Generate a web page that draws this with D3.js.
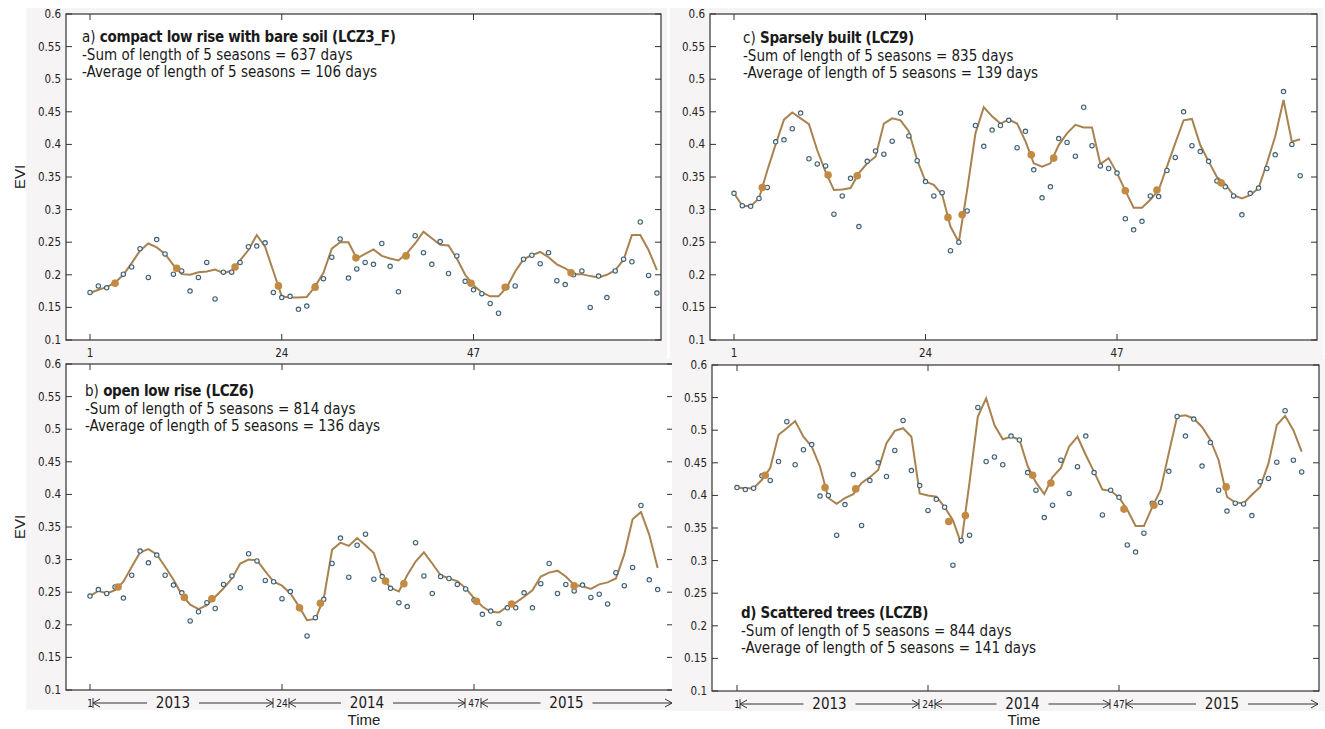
<!DOCTYPE html>
<meta charset="utf-8">
<style>
body { margin: 0; background: #fff; }
svg { display: block; }
.tick-lbl { font-family: "Liberation Sans Narrow", "DejaVu Sans Condensed", sans-serif; font-size: 11.5px; fill: #222; }
.note { font-family: "Liberation Sans Narrow", "DejaVu Sans Condensed", sans-serif; font-size: 15px; fill: #1a1a1a; }
.axis-title { font-family: "Liberation Sans", Arial, sans-serif; font-size: 15px; fill: #222; }
</style>
<body>
<svg width="1325" height="729"></svg>
<script src="https://d3js.org/d3.v7.min.js"></script>
<script>
// EVI time series, 23 composites per year, 2013-2015

var idx = d3.range(1, 70);
var yTicks = [0.1, 0.15, 0.2, 0.25, 0.3, 0.35, 0.4, 0.45, 0.5, 0.55, 0.6];
var xTicks = [1, 24, 47];
var years = ["2013", "2014", "2015"];

// a) LCZ3_F
var lineA = [0.172,0.177,0.181,0.188,0.200,0.218,0.237,0.248,0.242,0.232,
  0.215,0.201,0.200,0.204,0.205,0.208,0.203,0.206,0.222,0.238,
  0.261,0.243,0.205,0.167,0.165,0.165,0.166,0.182,0.203,0.240,
  0.250,0.250,0.225,0.232,0.239,0.229,0.225,0.222,0.233,0.248,
  0.266,0.256,0.246,0.245,0.225,0.200,0.184,0.173,0.167,0.167,
  0.181,0.205,0.224,0.230,0.235,0.227,0.216,0.210,0.201,0.201,
  0.198,0.196,0.200,0.207,0.223,0.261,0.261,0.238,0.207];
var ptsA = [0.173,0.183,0.180,0.188,0.201,0.212,0.240,0.196,0.254,0.232,
  0.201,0.206,0.175,0.196,0.219,0.163,0.204,0.204,0.219,0.243,
  0.244,0.249,0.173,0.165,0.167,0.147,0.152,0.183,0.194,0.227,
  0.255,0.195,0.209,0.219,0.216,0.248,0.213,0.174,0.230,0.260,
  0.234,0.216,0.251,0.202,0.229,0.190,0.177,0.171,0.156,0.141,
  0.181,0.183,0.224,0.230,0.217,0.234,0.191,0.185,0.200,0.206,
  0.150,0.198,0.165,0.206,0.224,0.220,0.281,0.199,0.172];
var seasonXA = [4.0,11.4,18.4,23.6,28.0,32.9,38.9,46.7,50.8,58.7];
var seasonYA = [0.187,0.210,0.212,0.183,0.181,0.226,0.229,0.187,0.181,0.203];

// b) LCZ6
var lineB = [0.244,0.252,0.248,0.253,0.266,0.289,0.311,0.316,0.308,0.289,
  0.269,0.246,0.231,0.224,0.230,0.243,0.256,0.271,0.294,0.300,
  0.299,0.282,0.266,0.260,0.248,0.229,0.207,0.209,0.240,0.315,
  0.326,0.321,0.333,0.322,0.310,0.272,0.257,0.251,0.276,0.297,
  0.311,0.294,0.276,0.271,0.267,0.256,0.241,0.228,0.220,0.219,
  0.228,0.234,0.243,0.253,0.274,0.280,0.283,0.274,0.261,0.259,
  0.255,0.262,0.265,0.271,0.308,0.362,0.373,0.338,0.287];
var ptsB = [0.244,0.254,0.248,0.258,0.241,0.276,0.313,0.295,0.307,0.276,
  0.261,0.249,0.206,0.220,0.234,0.225,0.262,0.275,0.257,0.309,
  0.298,0.268,0.266,0.240,0.251,0.226,0.183,0.211,0.239,0.294,
  0.333,0.273,0.322,0.339,0.270,0.274,0.256,0.234,0.228,0.326,
  0.275,0.248,0.274,0.271,0.262,0.255,0.238,0.216,0.221,0.202,
  0.226,0.226,0.249,0.226,0.263,0.294,0.248,0.262,0.252,0.261,
  0.242,0.247,0.232,0.280,0.260,0.288,0.383,0.269,0.254];
var seasonXB = [4.36,12.3,15.6,26.1,28.6,36.4,38.6,47.3,51.5,59.0];
var seasonYB = [0.258,0.242,0.240,0.226,0.233,0.267,0.263,0.236,0.232,0.260];

// c) LCZ9
var lineC = [0.325,0.306,0.305,0.317,0.360,0.400,0.438,0.449,0.440,0.431,
  0.391,0.358,0.330,0.331,0.333,0.356,0.371,0.381,0.432,0.440,
  0.437,0.420,0.376,0.343,0.338,0.323,0.274,0.250,0.330,0.417,
  0.457,0.443,0.432,0.438,0.432,0.405,0.371,0.366,0.371,0.399,
  0.417,0.430,0.426,0.426,0.370,0.379,0.356,0.329,0.303,0.303,
  0.315,0.330,0.366,0.402,0.437,0.439,0.399,0.374,0.350,0.339,
  0.322,0.317,0.322,0.333,0.371,0.412,0.468,0.404,0.408];
var ptsC = [0.325,0.306,0.305,0.317,0.334,0.404,0.407,0.424,0.448,0.378,
  0.370,0.367,0.293,0.321,0.348,0.274,0.374,0.390,0.385,0.405,
  0.448,0.413,0.375,0.343,0.321,0.326,0.237,0.250,0.298,0.429,
  0.397,0.422,0.429,0.437,0.395,0.420,0.361,0.318,0.335,0.409,
  0.403,0.382,0.457,0.398,0.367,0.363,0.356,0.286,0.269,0.282,
  0.321,0.320,0.360,0.380,0.450,0.398,0.389,0.374,0.344,0.335,
  0.321,0.292,0.325,0.333,0.363,0.384,0.481,0.400,0.352];
var seasonXC = [4.4,12.3,15.8,26.7,28.4,36.7,39.4,48.0,51.8,59.5];
var seasonYC = [0.334,0.353,0.352,0.288,0.292,0.384,0.379,0.329,0.330,0.341];

// d) LCZB
var lineD = [0.412,0.411,0.411,0.424,0.442,0.493,0.503,0.514,0.490,0.475,
  0.444,0.396,0.387,0.396,0.402,0.419,0.428,0.439,0.480,0.499,
  0.503,0.490,0.403,0.400,0.398,0.382,0.362,0.326,0.420,0.521,
  0.549,0.508,0.486,0.490,0.486,0.445,0.420,0.402,0.428,0.442,
  0.475,0.490,0.462,0.436,0.409,0.407,0.397,0.378,0.353,0.353,
  0.382,0.408,0.465,0.521,0.523,0.518,0.505,0.485,0.454,0.398,
  0.389,0.388,0.401,0.413,0.449,0.508,0.522,0.500,0.467];
var ptsD = [0.412,0.409,0.411,0.430,0.423,0.452,0.513,0.447,0.470,0.478,
  0.399,0.400,0.339,0.386,0.432,0.354,0.423,0.450,0.429,0.469,
  0.515,0.438,0.415,0.377,0.394,0.382,0.293,0.331,0.339,0.535,
  0.452,0.459,0.447,0.491,0.485,0.435,0.408,0.366,0.385,0.454,
  0.403,0.444,0.491,0.435,0.370,0.408,0.397,0.324,0.313,0.342,
  0.388,0.389,0.437,0.521,0.491,0.517,0.445,0.481,0.408,0.376,
  0.388,0.387,0.369,0.421,0.426,0.451,0.530,0.454,0.436];
var seasonXD = [4.4,11.6,15.3,26.5,28.5,36.6,38.8,47.6,51.2,59.9];
var seasonYD = [0.431,0.412,0.410,0.360,0.369,0.431,0.419,0.379,0.385,0.413];

var panels = [
  {left: 66, right: 661, top: 14, bottom: 340, x1: 90, x47: 473.5,
   line: lineA, pts: ptsA, sx: seasonXA, sy: seasonYA,
   tag: "a) ", name: "compact low rise with bare soil (LCZ3_F)", sum: 637, avg: 106,
   tx: 82, ty: 42, evi: true, timeAxis: false},
  {left: 66, right: 673, top: 364, bottom: 690, x1: 90, x47: 474,
   line: lineB, pts: ptsB, sx: seasonXB, sy: seasonYB,
   tag: "b) ", name: "open low rise (LCZ6)", sum: 814, avg: 136,
   tx: 85, ty: 396, evi: true, timeAxis: true, timeX: 364, yearShift: -10},
  {left: 710, right: 1317, top: 14, bottom: 340, x1: 734, x47: 1117,
   line: lineC, pts: ptsC, sx: seasonXC, sy: seasonYC,
   tag: "c) ", name: "Sparsely built (LCZ9)", sum: 835, avg: 139,
   tx: 743, ty: 43, evi: false, timeAxis: false},
  {left: 712, right: 1319, top: 365, bottom: 691, x1: 737, x47: 1119,
   line: lineD, pts: ptsD, sx: seasonXD, sy: seasonYD,
   tag: "", name: "d) Scattered trees (LCZB)", sum: 844, avg: 141,
   tx: 741, ty: 618, evi: false, timeAxis: true, timeX: 1024, yearShift: 0}
];

var svg = d3.select("svg");

panels.forEach(function(p) {
  var x = d3.scaleLinear().domain([1, 47]).range([p.x1, p.x47]);
  var y = d3.scaleLinear().domain([0.1, 0.6]).range([p.bottom, p.top]);
  var g = svg.append("g");

  // faint grey backing behind labels
  g.append("rect")
      .attr("x", p.left - 40).attr("y", p.top - 6)
      .attr("width", p.right - p.left + 46).attr("height", p.bottom - p.top + 26)
      .attr("fill", "#f6f4f5");
  g.append("rect")
      .attr("x", p.left).attr("y", p.top)
      .attr("width", p.right - p.left).attr("height", p.bottom - p.top)
      .attr("fill", "#fff");

  // ticks, inward on all four sides
  var tl = 6;
  g.selectAll(".ty").data(yTicks).enter().append("path")
      .attr("d", function(d) {
        return "M" + p.left + "," + y(d) + "h" + tl + "M" + p.right + "," + y(d) + "h" + (-tl);
      })
      .attr("stroke", "#333").attr("stroke-width", 1);
  g.selectAll(".tx").data(xTicks).enter().append("path")
      .attr("d", function(d) {
        return "M" + x(d) + "," + p.bottom + "v" + (-tl) + "M" + x(d) + "," + p.top + "v" + tl;
      })
      .attr("stroke", "#333").attr("stroke-width", 1);

  g.selectAll(".yl").data(yTicks).enter().append("text")
      .attr("class", "tick-lbl")
      .attr("x", p.left - 5).attr("y", function(d) { return y(d) + 4; })
      .attr("text-anchor", "end")
      .text(function(d) { return d3.format("")(d); });

  // smoothed curve
  var line = d3.line()
      .x(function(d, i) { return x(idx[i]); })
      .y(function(d) { return y(d); });
  g.append("path")
      .datum(p.line)
      .attr("d", line)
      .attr("fill", "none")
      .attr("stroke", "#a8824f")
      .attr("stroke-width", 2);

  // raw EVI observations
  g.selectAll(".pt").data(p.pts).enter().append("circle")
      .attr("cx", function(d, i) { return x(idx[i]); })
      .attr("cy", function(d) { return y(d); })
      .attr("r", 2.2)
      .attr("fill", "#eef3f6")
      .attr("stroke", "#3f5f74")
      .attr("stroke-width", 1.1);

  // season start / end
  g.selectAll(".ss").data(p.sx).enter().append("circle")
      .attr("cx", function(d) { return x(d); })
      .attr("cy", function(d, i) { return y(p.sy[i]); })
      .attr("r", 3.8)
      .attr("fill", "#c28a42");

  g.append("rect")
      .attr("x", p.left).attr("y", p.top)
      .attr("width", p.right - p.left).attr("height", p.bottom - p.top)
      .attr("fill", "none").attr("stroke", "#333").attr("stroke-width", 1.2);

  // annotation
  var t1 = g.append("text").attr("class", "note").attr("x", p.tx).attr("y", p.ty);
  t1.append("tspan").text(p.tag);
  t1.append("tspan").attr("font-weight", "bold").attr("letter-spacing", "-0.3").text(p.name);
  g.append("text").attr("class", "note").attr("x", p.tx).attr("y", p.ty + 17.5)
      .text("-Sum of length of 5 seasons = " + p.sum + " days");
  g.append("text").attr("class", "note").attr("x", p.tx).attr("y", p.ty + 35)
      .text("-Average of length of 5 seasons = " + p.avg + " days");

  if (p.evi) {
    g.append("text").attr("class", "axis-title")
        .attr("transform", "translate(25," + (p.top + p.bottom) / 2 + ") rotate(-90)")
        .attr("text-anchor", "middle")
        .text("EVI");
  }

  if (!p.timeAxis) {
    g.selectAll(".xl").data(xTicks).enter().append("text")
        .attr("class", "tick-lbl")
        .attr("x", function(d) { return x(d); })
        .attr("y", p.bottom + 17)
        .attr("text-anchor", "middle")
        .text(function(d) { return d; });
  } else {
    var by = p.bottom + 13;
    var ends = [1, 24, 47, 70];
    g.selectAll(".xl").data(xTicks).enter().append("text")
        .attr("class", "tick-lbl")
        .style("font-size", "10px")
        .attr("x", function(d) { return x(d); })
        .attr("y", by + 4)
        .attr("text-anchor", "middle")
        .text(function(d) { return d; });
    years.forEach(function(yr, k) {
      var a = x(ends[k]) + (k === 0 ? 3 : 7);
      var b = k === 2 ? p.right - 1 : x(ends[k + 1]) - 9;
      var mid = (a + b) / 2 + p.yearShift;
      var half = 26;
      var seg = g.append("g").attr("stroke", "#333").attr("stroke-width", 1).attr("fill", "none");
      seg.append("path").attr("d", "M" + a + "," + by + "H" + (mid - half) + "M" + (mid + half) + "," + by + "H" + b);
      seg.append("path").attr("d", "M" + a + "," + (by - 5) + "v10");
      seg.append("path").attr("d", "M" + (a + 7) + "," + (by - 4) + "L" + a + "," + by + "L" + (a + 7) + "," + (by + 4));
      seg.append("path").attr("d", "M" + (b - 7) + "," + (by - 4) + "L" + b + "," + by + "L" + (b - 7) + "," + (by + 4));
      if (k < 2) seg.append("path").attr("d", "M" + b + "," + (by - 5) + "v10");
      g.append("text").attr("class", "note")
          .attr("x", mid).attr("y", by + 5)
          .attr("text-anchor", "middle")
          .text(yr);
    });
    g.append("text").attr("class", "axis-title")
        .attr("x", p.timeX).attr("y", 725)
        .attr("text-anchor", "middle")
        .text("Time");
  }
});
</script>
